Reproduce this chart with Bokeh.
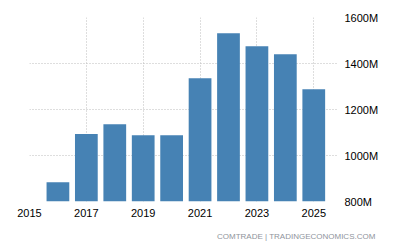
from bokeh.plotting import figure
from bokeh.models import Range1d, FixedTicker, CustomJSTickFormatter, Title, LinearAxis
from bokeh.embed import file_html
from bokeh.resources import INLINE

years = [2016, 2017, 2018, 2019, 2020, 2021, 2022, 2023, 2024, 2025]
values_m = [884, 1093, 1136, 1088, 1088, 1336, 1532, 1475, 1440, 1288]
x_ticks = [2015, 2017, 2019, 2021, 2023, 2025]
y_ticks = [800, 1000, 1200, 1400, 1600]
source_text = "COMTRADE | TRADINGECONOMICS.COM"

FONT = "Liberation Sans"
TXT = "#000000"

p = figure(width=400, height=250, output_backend="svg", toolbar_location=None,
           x_range=Range1d(2015, 2025.87), y_range=Range1d(800, 1600),
           y_axis_location=None, min_border_left=29, min_border_right=62,
           min_border_top=17, min_border_bottom=49)
p.outline_line_color = None
p.background_fill_color = "white"
p.border_fill_color = "white"

p.vbar(x=years, top=values_m, bottom=800, width=0.8, color="#4682b4", line_color=None)

yaxis = LinearAxis(ticker=FixedTicker(ticks=y_ticks),
                   formatter=CustomJSTickFormatter(code="return tick + 'M';"))
p.add_layout(yaxis, "right")

for ax in (p.xaxis[0], yaxis):
    ax.axis_line_color = None
    ax.major_tick_line_color = None
    ax.minor_tick_line_color = None
    ax.major_label_text_font = FONT
    ax.major_label_text_font_size = "11px"
    ax.major_label_text_color = TXT

p.xaxis[0].ticker = FixedTicker(ticks=x_ticks)
p.xaxis[0].major_label_standoff = 1
yaxis.major_label_standoff = 0

p.xgrid.ticker = FixedTicker(ticks=x_ticks)
p.ygrid.ticker = FixedTicker(ticks=y_ticks)
for g in (p.xgrid[0], p.ygrid[0]):
    g.grid_line_color = "#bdbdbd"
    g.grid_line_dash = "1 2"
    g.grid_line_width = 1

p.add_layout(Title(text=source_text, align="right", offset=-37,
                   text_font=FONT, text_font_size="8px",
                   text_color="#8f949c", text_font_style="normal", standoff=20), "below")

open("out.html", "w").write(file_html(p, INLINE))
